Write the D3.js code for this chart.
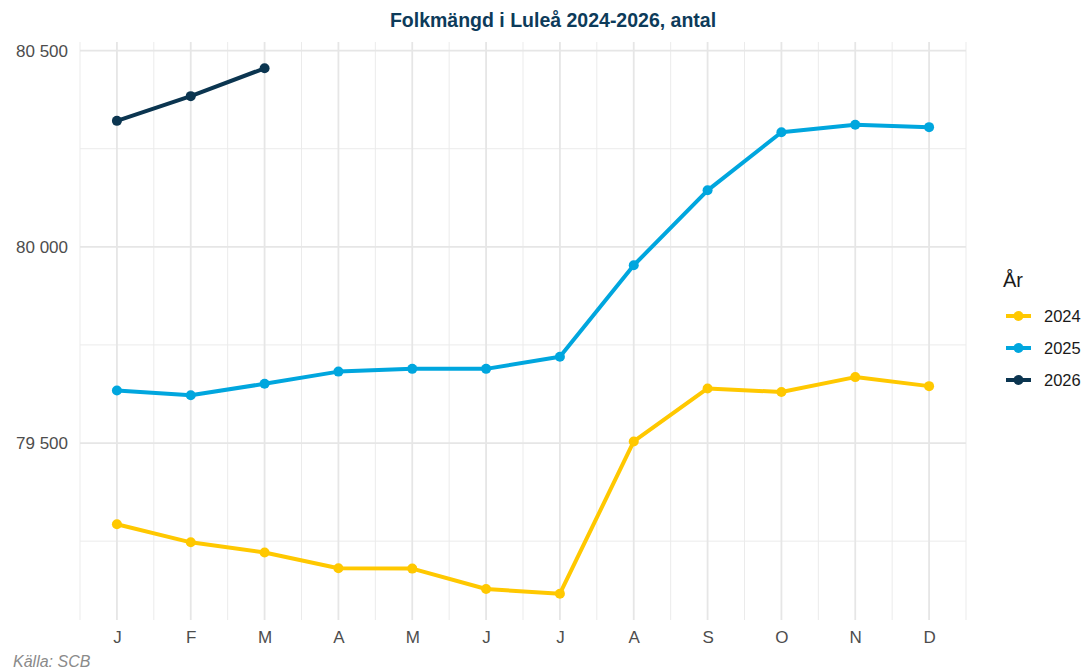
<!DOCTYPE html>
<html>
<head>
<meta charset="utf-8">
<script src="https://cdn.jsdelivr.net/npm/d3@7"></script>
<style>
  body { margin: 0; background: #fff; }
  svg { font-family: "Liberation Sans", Arial, sans-serif; }
</style>
</head>
<body>
<svg id="chart" width="1088" height="672"></svg>
<script>
// month labels (swedish initials)
var months = ["J", "F", "M", "A", "M", "J", "J", "A", "S", "O", "N", "D"];
var years = ["2024", "2025", "2026"];
var colors = ["#FFC800", "#00A6DE", "#0B3550"];

// population per month
var pop2024 = [79293, 79247, 79221, 79181, 79180, 79128, 79116, 79504, 79639, 79630, 79668, 79645];
var pop2025 = [79634, 79622, 79651, 79682, 79689, 79689, 79720, 79953, 80144, 80292, 80311, 80305];
var pop2026 = [80321, 80384, 80455];

var yTicks = [79500, 80000, 80500];
var yMinor = [79250, 79750, 80250];

var margin = { top: 42, left: 80, right: 122, bottom: 52 };
var width = 1088, height = 672;

var series = [pop2024, pop2025, pop2026].map(function(vals, i) {
    return {
        year: years[i],
        color: colors[i],
        values: vals.map(function(v, j) { return { m: j + 1, v: v }; })
    };
});

var svg = d3.select('#chart');

var allVals = [].concat(pop2024, pop2025, pop2026);
var ext = d3.extent(allVals);
var pad = (ext[1] - ext[0]) * 0.05;

var x = d3.scaleLinear()
    .domain([0.5, 12.5])
    .range([margin.left, width - margin.right]);

var y = d3.scaleLinear()
    .domain([ext[0] - pad, ext[1] + pad])
    .range([height - margin.bottom, margin.top]);

var grid = svg.append('g');

// minor gridlines (half months / quarter thousands)
var xMinor = d3.range(0, 13).map(function(i) { return i + 0.5; });
grid.selectAll('line.xminor')
    .data(xMinor)
    .enter()
    .append('line')
    .attr('x1', d => x(d)).attr('x2', d => x(d))
    .attr('y1', margin.top).attr('y2', height - margin.bottom)
    .attr('stroke', '#EBEBEB').attr('stroke-width', 1);

grid.selectAll('line.yminor')
    .data(yMinor)
    .enter()
    .append('line')
    .attr('x1', margin.left).attr('x2', width - margin.right)
    .attr('y1', d => y(d)).attr('y2', d => y(d))
    .attr('stroke', '#EBEBEB').attr('stroke-width', 1);

// major gridlines
grid.selectAll('line.xmajor')
    .data(d3.range(1, 13))
    .enter()
    .append('line')
    .attr('x1', d => x(d)).attr('x2', d => x(d))
    .attr('y1', margin.top).attr('y2', height - margin.bottom)
    .attr('stroke', '#E6E6E6').attr('stroke-width', 1.8);

grid.selectAll('line.ymajor')
    .data(yTicks)
    .enter()
    .append('line')
    .attr('x1', margin.left).attr('x2', width - margin.right)
    .attr('y1', d => y(d)).attr('y2', d => y(d))
    .attr('stroke', '#E6E6E6').attr('stroke-width', 1.8);

// axes, built with d3 axis but stripped of domain/ticks
var fmt = function(d) { return d3.format(',')(d).replace(',', ' '); };

var yAxis = svg.append('g')
    .attr('transform', 'translate(' + (margin.left - 12) + ',0)')
    .call(d3.axisLeft(y).tickValues(yTicks).tickFormat(fmt).tickSize(0).tickPadding(0));
yAxis.select('.domain').remove();
yAxis.selectAll('text')
    .attr('fill', '#4D4D4D')
    .style('font-size', '17px')
    .style('font-family', '"Liberation Sans", Arial, sans-serif');

var xAxis = svg.append('g')
    .attr('transform', 'translate(0,' + (height - margin.bottom) + ')')
    .call(d3.axisBottom(x).tickValues(d3.range(1, 13)).tickFormat(d => months[d - 1]).tickSize(0));
xAxis.select('.domain').remove();
xAxis.selectAll('text')
    .attr('y', 23)
    .attr('dy', 0)
    .attr('fill', '#4D4D4D')
    .style('font-size', '17px')
    .style('font-family', '"Liberation Sans", Arial, sans-serif');

// lines + points
var line = d3.line()
    .x(d => x(d.m))
    .y(d => y(d.v));

var groups = svg.append('g')
    .selectAll('g')
    .data(series)
    .enter()
    .append('g');

groups.append('path')
    .attr('d', d => line(d.values))
    .attr('fill', 'none')
    .attr('stroke', d => d.color)
    .attr('stroke-width', 4)
    .attr('stroke-linejoin', 'round');

groups.each(function(s) {
    d3.select(this).selectAll('circle')
        .data(s.values)
        .enter()
        .append('circle')
        .attr('cx', d => x(d.m))
        .attr('cy', d => y(d.v))
        .attr('r', 5)
        .attr('fill', s.color);
});

// title
svg.append('text')
    .attr('x', 553)
    .attr('y', 27)
    .attr('text-anchor', 'middle')
    .attr('fill', '#0D3B5A')
    .style('font-size', '19.5px')
    .style('font-weight', 'bold')
    .text('Folkmängd i Luleå 2024-2026, antal');

// legend
var legend = svg.append('g').attr('transform', 'translate(1003,0)');
legend.append('text')
    .attr('x', 0).attr('y', 287)
    .attr('fill', '#1a1a1a')
    .style('font-size', '20px')
    .text('År');

var items = legend.selectAll('g.item')
    .data(series)
    .enter()
    .append('g')
    .attr('transform', (d, i) => 'translate(0,' + (316 + i * 32) + ')');
items.append('line')
    .attr('x1', 3).attr('x2', 28)
    .attr('stroke', d => d.color).attr('stroke-width', 4);
items.append('circle')
    .attr('cx', 15.5).attr('r', 5)
    .attr('fill', d => d.color);
items.append('text')
    .attr('x', 41).attr('dy', '0.36em')
    .attr('fill', '#1a1a1a')
    .style('font-size', '16.5px')
    .text(d => d.year);

// caption
svg.append('text')
    .attr('x', 13).attr('y', 667)
    .attr('fill', '#8a8a8a')
    .style('font-size', '16px')
    .style('font-style', 'italic')
    .text('Källa: SCB');
</script>
</body>
</html>
